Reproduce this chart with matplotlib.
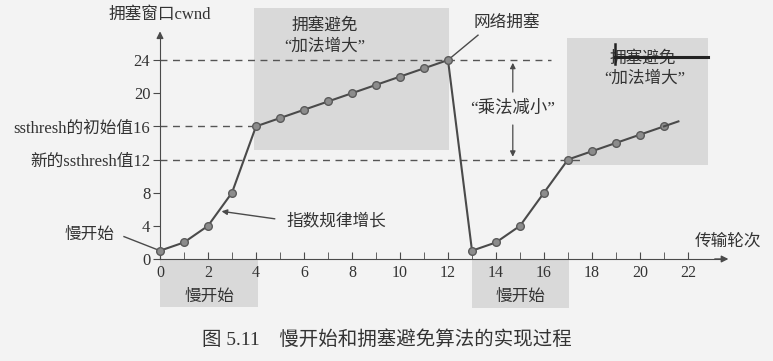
import matplotlib
matplotlib.use("Agg")
import matplotlib.pyplot as plt
from matplotlib.patches import Rectangle

plt.rcParams['font.family'] = ['Liberation Serif', 'Noto Sans CJK SC', 'DejaVu Sans']

# ---- data ----
rounds = list(range(0, 22))
cwnd = [1, 2, 4, 8, 16, 17, 18, 19, 20, 21, 22, 23, 24,
        1, 2, 4, 8, 12, 13, 14, 15, 16]
ssthresh_init = 16
ssthresh_new = 12
cwnd_peak = 24
xticks_major = list(range(0, 24, 2))
xticks_minor = list(range(0, 23))
yticks = [0, 4, 8, 12, 16, 20, 24]
ytick_labels = ['0', '4', '8', '新的ssthresh值12', 'ssthresh的初始值16', '20', '24']

ink = '#4a4a4a'
shade = '#d9d9d9'
bg = '#f3f3f3'

fig = plt.figure(figsize=(7.73, 3.61), dpi=100, facecolor=bg)
ax = fig.add_axes([0, 0, 1, 1], facecolor=bg)
ax.set_xlim(-160 / 24, (773 - 160) / 24)
ax.set_ylim(-(361 - 259) / 8.29, 259 / 8.29)

# shaded phase boxes
for (x0, x1, y0, y1) in [(3.9, 12.05, 13.1, 30.3), (16.96, 22.83, 11.3, 26.7),
                         (0, 4.1, -5.8, 0), (13, 17.05, -5.9, 0)]:
    ax.add_patch(Rectangle((x0, y0), x1 - x0, y1 - y0, facecolor=shade,
                           edgecolor='none', zorder=0))

# axes spines as arrows
for s in ['top', 'right']:
    ax.spines[s].set_visible(False)
ax.spines['left'].set_position(('data', 0))
ax.spines['bottom'].set_position(('data', 0))
ax.spines['left'].set_bounds(0, 27.3)
ax.spines['bottom'].set_bounds(0, 23.4)
ax.spines['left'].set_color(ink)
ax.spines['bottom'].set_color(ink)
ax.annotate('', xy=(0, 27.8), xytext=(0, 26.5),
            arrowprops=dict(arrowstyle='-|>', color=ink, lw=1, mutation_scale=10))
ax.annotate('', xy=(23.8, 0), xytext=(23.0, 0),
            arrowprops=dict(arrowstyle='-|>', color=ink, lw=1, mutation_scale=10))

ax.set_xticks(xticks_major)
ax.set_xticks(xticks_minor, minor=True)
ax.set_xticklabels([str(v) for v in xticks_major])
ax.tick_params(axis='x', which='both', direction='in', length=5, color=ink,
               labelsize=11.5, labelcolor='#333333', pad=4)
ax.set_yticks(yticks)
ax.set_yticklabels(ytick_labels)
ax.tick_params(axis='y', direction='out', length=5, color=ink,
               labelsize=12, labelcolor='#333333', pad=2)

# dashed reference lines
dash = dict(color='#555555', lw=1, linestyle=(0, (5, 4)), zorder=1)
ax.plot([0, 16.3], [cwnd_peak, cwnd_peak], **dash)
ax.plot([0, 4], [ssthresh_init, ssthresh_init], **dash)
ax.plot([0, 17.7], [ssthresh_new, ssthresh_new], **dash)

# cwnd curve
ax.plot(rounds, cwnd, color=ink, lw=1.5, marker='o', markersize=5.5,
        markerfacecolor='#8c8c8c', markeredgecolor='#5a5a5a', zorder=3)
ext = 0.6
ax.plot([rounds[-1], rounds[-1] + ext],
        [cwnd[-1], cwnd[-1] + ext * (cwnd[-1] - cwnd[-2])], color=ink, lw=1.5, zorder=3)

# axis titles
tk = dict(color='#333333', fontsize=12)
ax.text(0, 29.4, '拥塞窗口cwnd', ha='center', va='center', **tk)
ax.text(23.67, 2.05, '传输轮次', ha='center', va='center', **tk)

# annotations
ax.text(6.85, 28.2, '拥塞避免', ha='center', va='center', **tk)
ax.text(6.85, 25.6, '“加法增大”', ha='center', va='center', **tk)
ax.text(20.1, 24.2, '拥塞避免', ha='center', va='center', **tk)
ax.text(20.2, 21.7, '“加法增大”', ha='center', va='center', **tk)
# scan artefact bar across second label
ax.plot([18.96, 22.83], [24.4, 24.4], color='#222222', lw=2.2, zorder=4)
ax.plot([18.96, 18.96], [23.5, 25.9], color='#222222', lw=1.8, zorder=4)

ax.text(14.45, 28.5, '网络拥塞', ha='center', va='center', **tk)
ax.plot([12, 13.25], [cwnd_peak, 27.0], color=ink, lw=1)

ax.text(14.7, 18.2, '“乘法减小”', ha='center', va='center', color='#333333', fontsize=12.5)
ax.annotate('', xy=(14.7, cwnd_peak), xytext=(14.7, 19.8),
            arrowprops=dict(arrowstyle='-|>', color=ink, lw=0.9, mutation_scale=8))
ax.annotate('', xy=(14.7, ssthresh_new), xytext=(14.7, 16.5),
            arrowprops=dict(arrowstyle='-|>', color=ink, lw=0.9, mutation_scale=8))

ax.text(-2.96, 2.9, '慢开始', ha='center', va='center', **tk)
ax.plot([-1.5, 0], [2.7, cwnd[0]], color=ink, lw=1)

ax.text(7.35, 4.5, '指数规律增长', ha='center', va='center', **tk)
ax.annotate('', xy=(2.45, 5.8), xytext=(4.9, 4.8),
            arrowprops=dict(arrowstyle='-|>', color=ink, lw=1, mutation_scale=8))

ax.text(2.05, -4.6, '慢开始', ha='center', va='center', **tk)
ax.text(15.0, -4.6, '慢开始', ha='center', va='center', **tk)

fig.text(387 / 773, 1 - 340 / 361, '图 5.11    慢开始和拥塞避免算法的实现过程',
         ha='center', va='center', color='#333333', fontsize=14)

fig.savefig('out.png', dpi=100, facecolor=bg)
